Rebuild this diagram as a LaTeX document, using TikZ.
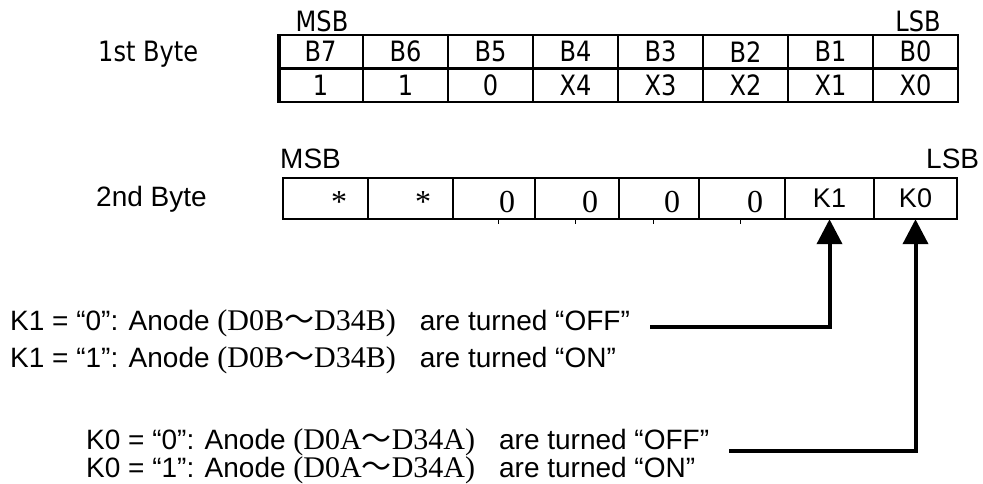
\documentclass[tikz,border=0pt]{standalone}
\usepackage{fontspec}
\setmainfont{Liberation Sans}
\newfontfamily\tim{Liberation Serif}
\newfontfamily\tah[FakeStretch=0.86]{DejaVu Sans}
\newfontfamily\cjk{Noto Sans CJK SC}
\usetikzlibrary{arrows.meta}
\newcommand{\serifpart}[1]{{\tim\fontsize{30}{32}\selectfont #1}}
\newcommand{\wave}{{\cjk\fontsize{30}{32}\selectfont ～}}
\tikzset{
  tahtxt/.style={font=\tah\fontsize{28}{30}\selectfont, inner sep=0pt},
  ariatxt/.style={font=\fontsize{28}{30}\selectfont, inner sep=0pt},
  timtxt/.style={font=\tim\fontsize{32}{34}\selectfont, inner sep=0pt},
  cellA/.style={minimum width=85pt, minimum height=33.5pt, inner sep=0pt, font=\tah\fontsize{28}{30}\selectfont},
  cellB/.style={minimum width=84pt, minimum height=41pt, inner sep=0pt, font=\fontsize{27}{29}\selectfont},
  thickgrid/.style={line width=2.8pt},
  outergrid/.style={line width=2.4pt},
  innergrid/.style={line width=1.4pt},
  tick/.style={line width=1pt},
  pointer/.style={line width=4pt, -{Triangle[width=25pt,length=25pt]}},
}
\begin{document}
\begin{tikzpicture}[x=1pt,y=1pt]
\useasboundingbox (0,0) rectangle (983,-484);
% ---------- first byte ----------
\node[tahtxt, anchor=base west] (lab1) at (98,-62) {1st Byte};
\node[tahtxt, anchor=base] (msb1) at (322,-32) {MSB};
\node[tahtxt, anchor=base] (lsb1) at (918,-32) {LSB};
\foreach \i/\b/\v in {0/B7/1,1/B6/1,2/B5/0,3/B4/X4,4/B3/X3,5/B2/X2,6/B1/X1,7/B0/X0}{
  \node[cellA] (ta\i) at ({278+85*\i+42.5},-51.75) {\b};
  \node[cellA] (tb\i) at ({278+85*\i+42.5},-85.25) {\v};
}
\draw[thickgrid] (278,-35) rectangle (958,-102);
\draw[thickgrid] (278,-68.5) -- (958,-68.5);
\foreach \xx in {363,448,533,618,703,788,873}{
  \draw[thickgrid] (\xx,-35) -- (\xx,-102);
}
\draw[line width=4.5pt] (279,-35) -- (279,-102);
% ---------- second byte ----------
\node[ariatxt, anchor=base west] (lab2) at (96,-207) {2nd Byte};
\node[ariatxt, anchor=base west] (msb2) at (280,-168) {MSB};
\node[ariatxt, anchor=base west] (lsb2) at (926,-168) {LSB};
\node[timtxt, anchor=base] (s7) at (339,-212) {*};
\node[timtxt, anchor=base] (s6) at (423,-212) {*};
\node[timtxt, anchor=base] (s5) at (507,-212) {0};
\node[timtxt, anchor=base] (s4) at (590,-212) {0};
\node[timtxt, anchor=base] (s3) at (672,-212) {0};
\node[timtxt, anchor=base] (s2) at (755,-212) {0};
\node[cellB, minimum width=89pt] (k1) at (829.5,-198.5) {K1};
\node[cellB, minimum width=83pt] (k0) at (915.5,-198.5) {K0};
\draw[innergrid] (368,-178) -- (368,-219);
\draw[outergrid] (453,-178) -- (453,-219);
\draw[outergrid] (535,-178) -- (535,-219);
\draw[innergrid] (619,-178) -- (619,-219);
\draw[outergrid] (699,-178) -- (699,-219);
\draw[innergrid] (785,-178) -- (785,-219);
\draw[innergrid] (874,-178) -- (874,-219);
\draw[outergrid] (283,-178) rectangle (957,-219);
\foreach \xx in {498,575,653,740}{
  \draw[tick] (\xx,-219) -- (\xx,-223.5);
}
% ---------- explanations ----------
\node[ariatxt, anchor=base west] (k1off) at (10,-330)
  {K1 = “0”: Anode \serifpart{(D0B\wave D34B)}\hspace{24pt}are turned “OFF”};
\node[ariatxt, anchor=base west] (k1on) at (10,-367)
  {K1 = “1”: Anode \serifpart{(D0B\wave D34B)}\hspace{24pt}are turned “ON”};
\node[ariatxt, anchor=base west] (k0off) at (86,-449)
  {K0 = “0”: Anode \serifpart{(D0A\wave D34A)}\hspace{24pt}are turned “OFF”};
\node[ariatxt, anchor=base west] (k0on) at (86,-477)
  {K0 = “1”: Anode \serifpart{(D0A\wave D34A)}\hspace{24pt}are turned “ON”};
\coordinate (h1) at ([xshift=20pt]k1off.base east |- 0,-327);
\coordinate (h0) at ([xshift=20pt]k0off.base east |- 0,-451);
\draw[pointer] (h1) -| (k1.south);
\draw[pointer] (h0) -| (k0.south);
\end{tikzpicture}
\end{document}
